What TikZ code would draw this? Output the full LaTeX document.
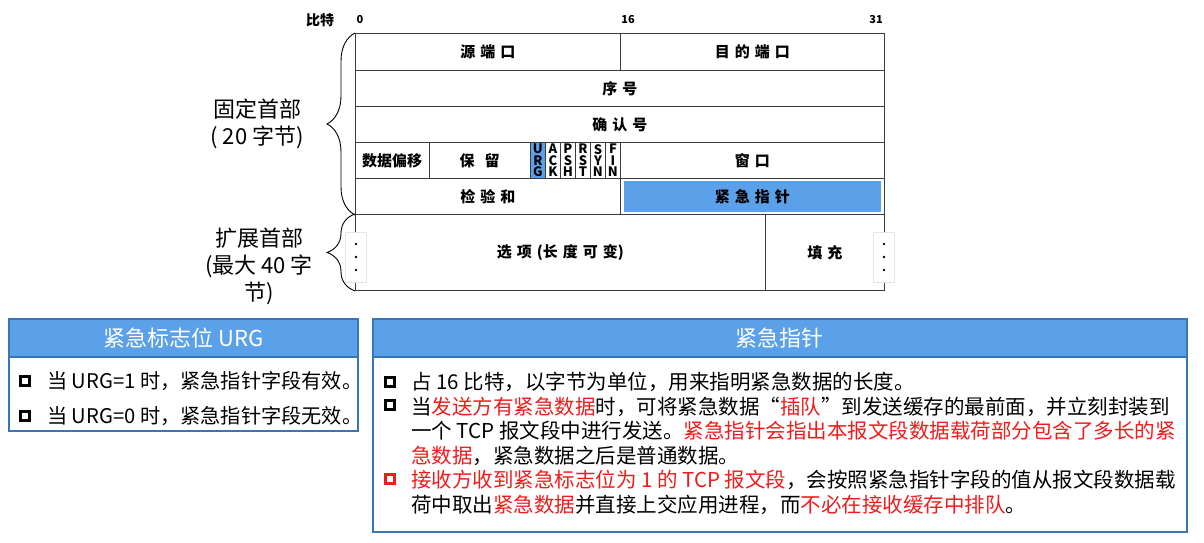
\documentclass[tikz,border=0pt]{standalone}
\usepackage{fontspec}
\setmainfont{Noto Sans CJK SC}
\usepackage{xcolor}
\usepackage{tikz}
\usetikzlibrary{decorations.pathreplacing}
\definecolor{hdblue}{HTML}{5BA1EA}
\definecolor{bdblue}{HTML}{3A76B4}
\definecolor{lineg}{HTML}{3C3C3C}
\definecolor{urgred}{HTML}{F21B1B}
\newcommand{\rd}[1]{\textcolor{urgred}{#1}}
\tikzset{
  cell/.style={draw=lineg,line width=0.9pt,anchor=north west,inner sep=0pt,align=center,font={\fontsize{15}{17}\selectfont\bfseries\spaceskip=5pt\relax}},
  flag/.style={cell,minimum width=15pt,minimum height=36pt,font=\fontsize{13}{11.3}\selectfont\bfseries},
  bitno/.style={font=\fontsize{11}{13}\selectfont\bfseries,inner sep=0pt},
  side/.style={align=center,font=\fontsize{22}{27}\selectfont,inner sep=0pt},
  brc/.style={decorate,decoration={brace,amplitude=28pt},line width=0.9pt},
  vdots/.style={draw=gray!20,fill=white,minimum width=21pt,minimum height=50pt,inner sep=0pt},
  panel/.style={draw=bdblue,line width=1.5pt,anchor=north west,inner sep=0pt},
  head/.style={panel,fill=hdblue,text=white,font=\fontsize{22}{26}\selectfont},
  txt/.style={anchor=base west,inner sep=0pt,font=\fontsize{20.5}{24}\selectfont},
  sq/.style={draw,line width=3.2pt,minimum size=9pt,inner sep=0pt}
}
\begin{document}
\begin{tikzpicture}[x=1pt,y=-1pt]
\useasboundingbox (0,0) rectangle (1204,543);
\node[bitno,font=\fontsize{14}{16}\selectfont\bfseries] (bits) at (320,20) {比特};
\node[bitno] (bit0) at (360,20) {0};
\node[bitno] (bit16) at (628,20) {16};
\node[bitno] (bit31) at (876,20) {31};
\node[cell,minimum width=265pt,minimum height=37pt] (srcport) at (355,33) {源 端 口};
\node[cell,minimum width=264pt,minimum height=37pt] (dstport) at (620,33) {目 的 端 口};
\node[cell,minimum width=529pt,minimum height=36pt] (seqno) at (355,70) {序 号};
\node[cell,minimum width=529pt,minimum height=36pt] (ackno) at (355,106) {确 认 号};
\node[cell,minimum width=73.5pt,minimum height=36pt] (offset) at (355,142) {数据偏移};
\node[cell,minimum width=101.5pt,minimum height=36pt] (resv) at (428.5,142) {保 \ 留};
\node[flag,fill=hdblue] (furg) at (530,142) {U\\R\\G};
\node[flag] (fack) at (545,142) {A\\C\\K};
\node[flag] (fpsh) at (560,142) {P\\S\\H};
\node[flag] (frst) at (575,142) {R\\S\\T};
\node[flag] (fsyn) at (590,142) {S\\Y\\N};
\node[flag] (ffin) at (605,142) {F\\I\\N};
\node[cell,minimum width=264pt,minimum height=36pt] (window) at (620,142) {窗 口};
\node[cell,minimum width=265pt,minimum height=36pt] (chksum) at (355,178) {检 验 和};
\node[cell,minimum width=264pt,minimum height=36pt] (urgptr) at (620,178) {};
\node[fill=hdblue,minimum width=257pt,minimum height=31pt,inner sep=0pt,font={\fontsize{15}{17}\selectfont\bfseries\spaceskip=5pt\relax}] (urgfill) at (urgptr.center) {紧 急 指 针};
\node[cell,minimum width=410pt,minimum height=76pt] (opts) at (355,214) {选 项 (长 度 可 变)};
\node[cell,minimum width=119pt,minimum height=76pt] (pad) at (765,214) {填 充};
\node[vdots] (ldots) at (356,257) {};
\node[vdots] (rdots) at (884,257) {};
\foreach \d in {-13,0,13} {
  \fill ([yshift=\d pt]ldots.center) circle (1.4pt);
  \fill ([yshift=\d pt]rdots.center) circle (1.4pt);
}
\draw[brc] (srcport.north west |- chksum.south west) -- (srcport.north west);
\draw[brc] (opts.south west) -- (opts.north west);
\node[side] (fixlbl) at (257,123.5) {固定首部\\( 20 字节)};
\node[side] (extlbl) at (259,266.5) {扩展首部\\(最大 40 字\\节)};
\node[panel,minimum width=349pt,minimum height=112pt] (urgbox) at (8,318) {};
\node[head,minimum width=349pt,minimum height=38pt] (urghd) at (8,318) {紧急标志位 URG};
\node[sq] (ub1) at (25,381) {};
\node[sq] (ub2) at (25,416) {};
\node[txt,font=\fontsize{20.2}{24}\selectfont] (urg1) at (47,388.6) {当 URG=1 时，紧急指针字段有效。};
\node[txt,font=\fontsize{20.2}{24}\selectfont] (urg0) at (47,423.6) {当 URG=0 时，紧急指针字段无效。};
\node[panel,minimum width=814pt,minimum height=213pt] (ptrbox) at (372,318) {};
\node[head,minimum width=814pt,minimum height=38pt] (ptrhd) at (372,318) {紧急指针};
\node[sq] (pb1) at (390,382) {};
\node[sq] (pb2) at (390,405) {};
\node[sq,draw=urgred] (pb3) at (390,479) {};
\node[txt] (ptr1) at (411,389.5) {占 16 比特，以字节为单位，用来指明紧急数据的长度。};
\node[txt] (ptr2) at (411,414) {当\rd{发送方有紧急数据}时，可将紧急数据“\rd{插队}”到发送缓存的最前面，并立刻封装到};
\node[txt] (ptr3) at (411,438.6) {一个 TCP 报文段中进行发送。\rd{紧急指针会指出本报文段数据载荷部分包含了多长的紧}};
\node[txt] (ptr4) at (411,463.2) {\rd{急数据}，紧急数据之后是普通数据。};
\node[txt] (ptr5) at (411,487.8) {\rd{接收方收到紧急标志位为 1 的 TCP 报文段}，会按照紧急指针字段的值从报文段数据载};
\node[txt] (ptr6) at (411,512.4) {荷中取出\rd{紧急数据}并直接上交应用进程，而\rd{不必在接收缓存中排队}。};
\end{tikzpicture}
\end{document}
